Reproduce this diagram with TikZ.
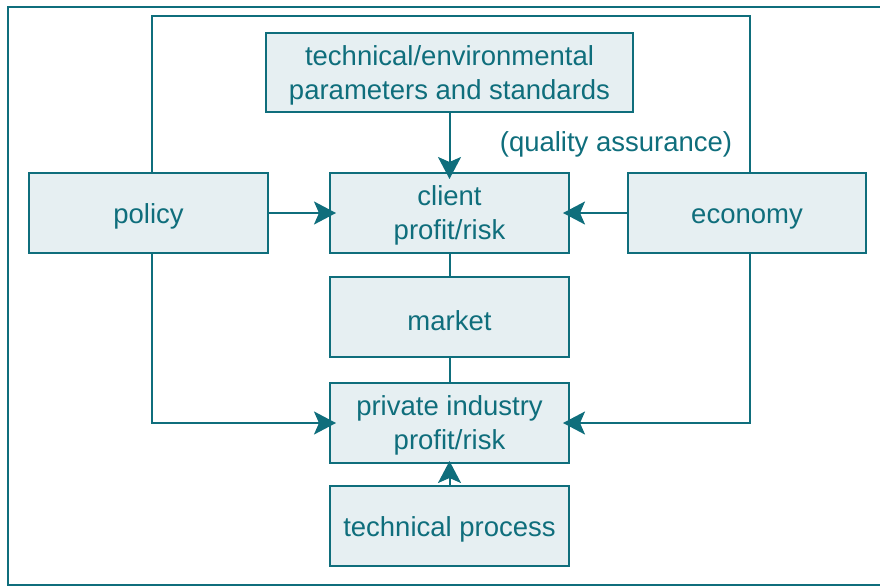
\documentclass[tikz,border=0pt]{standalone}
\usepackage{fontspec}
\setmainfont{Liberation Sans}
\usetikzlibrary{arrows.meta,calc}
\definecolor{tealline}{HTML}{0F6E7C}
\definecolor{boxfill}{HTML}{E6EFF2}
\begin{document}
\begin{tikzpicture}[x=1pt,y=-1pt,
  box/.style={draw=tealline, line width=2pt, fill=boxfill, text=tealline,
    minimum width=239pt, minimum height=80pt, inner sep=0pt, align=center,
    font=\fontsize{27.5}{34}\selectfont,
    execute at begin node={\rule{0pt}{26.5pt}}},
  twoline/.style={text depth=-1.5pt},
  conn/.style={draw=tealline, line width=2pt},
  arr/.style={conn, -{Stealth[length=22pt,width=23pt,inset=5pt]}, shorten >=-7pt}]
\useasboundingbox (0,0) rectangle (880,587);
\clip (0,0) rectangle (880,587);
\draw[draw=tealline, line width=1.6pt] (8,7) rectangle (886,585);

\node[box, twoline, minimum width=367pt, minimum height=79pt] (params) at (449.5,72.5) {technical/environmental\\parameters and standards};
\node[box] (policy) at (148.5,213) {policy};
\node[box, twoline] (client) at (449.5,213) {client\\profit/risk};
\node[box, minimum width=238pt] (economy) at (747,213) {economy};
\node[box] (market) at (449.5,317) {market};
\node[box, twoline] (private) at (449.5,423) {private industry\\profit/risk};
\node[box] (techproc) at (449.5,526) {technical process};
\node[text=tealline, font=\fontsize{27.5}{34}\selectfont, inner sep=0pt] (qa) at (616,144) {(quality assurance)};

\coordinate (tl) at (152,16);
\coordinate (tr) at (750,16);

\draw[conn] (policy.north -| tl) -- (tl) -- (tr) -- (economy.north -| tr);
\draw[arr] (params.south) -- (client.north);
\draw[arr] (policy.east) -- (client.west);
\draw[arr] (economy.west) -- (client.east);
\draw[conn] (client.south) -- (market.north);
\draw[conn] (market.south) -- (private.north);
\draw[arr] (policy.south -| tl) |- (private.west);
\draw[arr] (economy.south -| tr) |- (private.east);
\draw[arr, shorten >=-3pt] (techproc.north) -- (private.south);
\end{tikzpicture}
\end{document}
